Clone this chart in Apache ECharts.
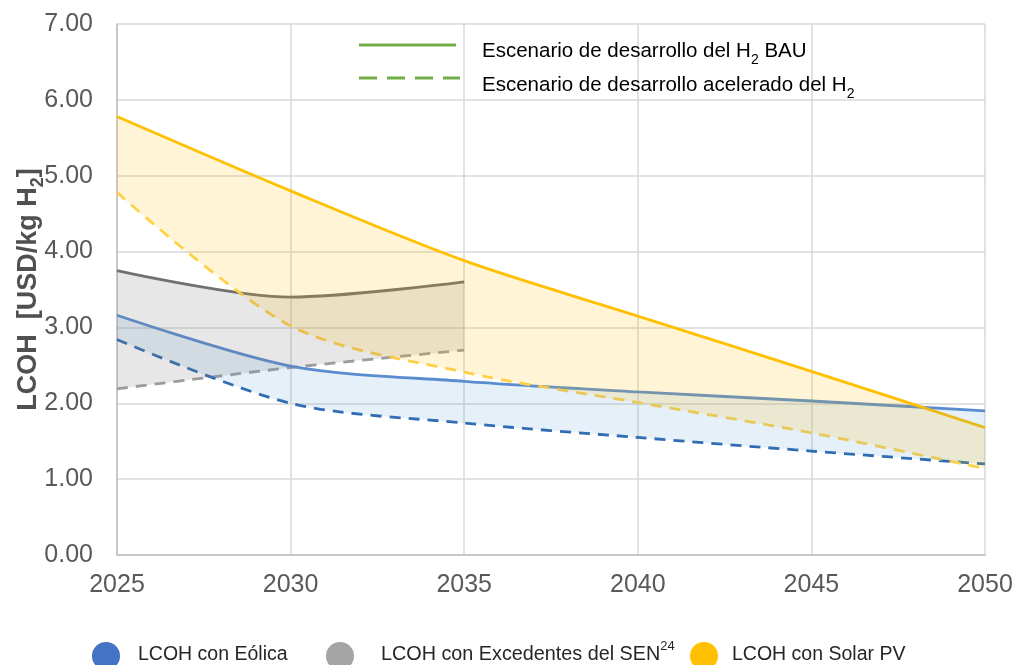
<!DOCTYPE html>
<html><head><meta charset="utf-8">
<script src="https://cdn.jsdelivr.net/npm/echarts@6/dist/echarts.min.js"></script>
<style>html,body{margin:0;padding:0;background:#fff}#c{width:1014px;height:665px}</style>
</head><body><div id="c"></div>
<script>
var years = ['2025', '2030', '2035', '2040', '2045', '2050'];
var yTicks = [0, 1, 2, 3, 4, 5, 6, 7];
var solarBAU = [5.78, 4.80, 3.88, 3.15, 2.42, 1.68];
var solarAcc = [4.78, 3.02, 2.41, 2.01, 1.61, 1.14];
var windBAU = [3.16, 2.49, 2.29, 2.15, 2.03, 1.90];
var windAcc = [2.84, 2.00, 1.74, 1.55, 1.37, 1.20];
var senBAU = [3.75, 3.40, 3.60, null, null, null];
var senAcc = [2.19, 2.47, 2.70, null, null, null];

var FONT = 'Liberation Sans, Arial, sans-serif';
var SM = 0.3;
function diff(top, bot){ return top.map(function(t,i){ return (t==null||bot[i]==null) ? null : +(t-bot[i]).toFixed(3); }); }

function band(name, top, bot, fill, z){
  return [
    {type:'line', stack:name, data:bot, smooth:SM, symbol:'none', lineStyle:{width:0, opacity:0}, silent:true, z:z},
    {type:'line', stack:name, data:diff(top, bot), smooth:SM, symbol:'none', lineStyle:{width:0, opacity:0}, areaStyle:{color:fill}, silent:true, z:z}
  ];
}
function line(ys, color, dashed, w){
  return {type:'line', data:ys, smooth:SM, symbol:'none', z:2,
    lineStyle:{color:color, width:w||2.8, type: dashed ? [11,8] : 'solid'}};
}

var series = [].concat(
  [line(senBAU, '#6F6F6F', false), line(senAcc, '#A0A0A0', true),
   line(windBAU, '#5A8BCF', false), line(windAcc, '#2E69B0', true),
   line(solarBAU, '#FFC000', false), line(solarAcc, '#FFD24D', true)],
  band('wind', windBAU, windAcc, 'rgba(91,155,213,0.22)', 3),
  band('sen', senBAU, senAcc, 'rgba(128,128,128,0.27)', 4),
  band('solar', solarBAU, solarAcc, 'rgba(255,192,0,0.23)', 5)
);

var chart = echarts.init(document.getElementById('c'));
chart.setOption({
  animation:false,
  backgroundColor:'#fff',
  grid:{left:117, right:29, top:24, bottom:110, containLabel:false, outerBoundsMode:'none'},
  xAxis:{type:'category', data:years, boundaryGap:false,
    axisLine:{show:true, lineStyle:{color:'#BFBFBF', width:1.5}}, axisTick:{show:false},
    splitLine:{show:true, lineStyle:{color:'#D9D9D9', width:1.5}},
    axisLabel:{color:'#595959', fontSize:25, fontFamily:FONT, margin:18, interval:0}},
  yAxis:{type:'value', min:yTicks[0], max:yTicks[yTicks.length-1], interval:1,
    axisLine:{show:true, lineStyle:{color:'#BFBFBF', width:1.5}}, axisTick:{show:false},
    splitLine:{show:true, lineStyle:{color:'#D9D9D9', width:1.5}},
    axisLabel:{color:'#595959', fontSize:25, fontFamily:FONT, margin:24, formatter:function(v){return v.toFixed(2);}},
    name:'{a|LCOH  [USD/kg H}{s|2}{a|]}', nameLocation:'middle', nameGap:75, nameRotate:90, nameMoveOverlap:false,
    nameTextStyle:{rich:{a:{fontSize:27, fontWeight:'bold', color:'#505050', fontFamily:FONT, lineHeight:30, verticalAlign:'bottom'},
      s:{fontSize:18, fontWeight:'bold', color:'#505050', fontFamily:FONT, lineHeight:30, verticalAlign:'bottom', padding:[0,0,-5,0]}}}},
  series:series,
  graphic:[
    {type:'line', shape:{x1:359, y1:45, x2:456, y2:45}, style:{stroke:'#70AD47', lineWidth:2.8}, z:10},
    {type:'line', shape:{x1:359, y1:78, x2:460, y2:78}, style:{stroke:'#70AD47', lineWidth:2.8, lineDash:[18,10]}, z:10},
    {type:'text', left:482, top:41, z:10, style:{text:'{a|Escenario de desarrollo del H}{s|2}{a| BAU}',
      rich:{a:{fontSize:20.5, fill:'#000', fontFamily:FONT, lineHeight:24, verticalAlign:'bottom'},
            s:{fontSize:14, fill:'#000', fontFamily:FONT, lineHeight:24, verticalAlign:'bottom', padding:[0,0,-5,0]}}}},
    {type:'text', left:482, top:75, z:10, style:{text:'{a|Escenario de desarrollo acelerado del H}{s|2}',
      rich:{a:{fontSize:20.5, fill:'#000', fontFamily:FONT, lineHeight:24, verticalAlign:'bottom'},
            s:{fontSize:14, fill:'#000', fontFamily:FONT, lineHeight:24, verticalAlign:'bottom', padding:[0,0,-5,0]}}}},
    {type:'circle', shape:{cx:106, cy:656, r:14}, style:{fill:'#4472C4'}},
    {type:'text', left:138, top:645, style:{text:'LCOH con Eólica', fontSize:19.5, fill:'#262626', fontFamily:FONT}},
    {type:'circle', shape:{cx:340, cy:656, r:14}, style:{fill:'#A5A5A5'}},
    {type:'text', left:381, top:640, style:{text:'{a|LCOH con Excedentes del SEN}{p|24}',
      rich:{a:{fontSize:19.8, fill:'#262626', fontFamily:FONT, lineHeight:24, verticalAlign:'top'},
            p:{fontSize:13, fill:'#262626', fontFamily:FONT, lineHeight:24, verticalAlign:'top', padding:[-5,0,0,0]}}}},
    {type:'circle', shape:{cx:704, cy:656, r:14}, style:{fill:'#FFC000'}},
    {type:'text', left:732, top:645, style:{text:'LCOH con Solar PV', fontSize:19.5, fill:'#262626', fontFamily:FONT}}
  ]
});
</script></body></html>
